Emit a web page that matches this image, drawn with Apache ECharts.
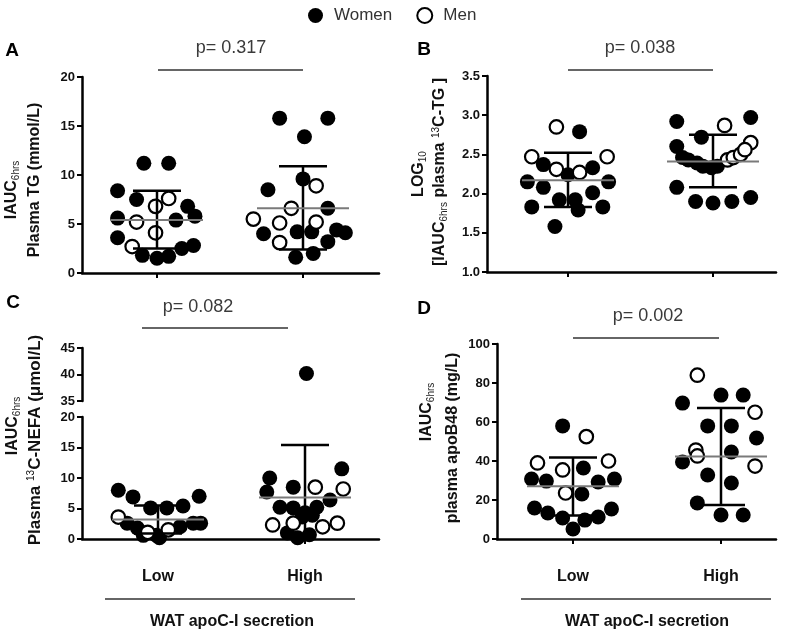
<!DOCTYPE html>
<html><head><meta charset="utf-8">
<script src="https://cdn.jsdelivr.net/npm/echarts@6/dist/echarts.min.js"></script>
<style>html,body{margin:0;padding:0;background:#fff}#c{width:797px;height:636px}</style>
</head><body><div id="c"></div>
<script>
// ---------------- DATA ----------------
const categories = ['Low', 'High'];
const groupNames = ['Women', 'Men'];
// each point: [horizontal jitter in category units, value]
const aWomenLow = [[-0.27,8.4],[-0.09,11.2],[0.08,11.2],[-0.14,7.5],[0.21,6.8],[-0.27,5.6],[0.13,5.4],[0.26,5.8],[-0.27,3.6],[-0.10,1.8],[0.0,1.5],[0.08,1.7],[0.17,2.5],[0.25,2.8]];
const aMenLow = [[0.08,7.6],[-0.01,6.8],[-0.14,5.2],[-0.01,4.1],[-0.17,2.7]];
const aWomenHigh = [[-0.16,15.8],[0.17,15.8],[0.01,13.9],[-0.24,8.5],[0.0,9.6],[0.17,6.6],[-0.27,4.0],[-0.04,4.2],[0.06,4.2],[0.23,4.4],[0.29,4.1],[0.17,3.2],[-0.05,1.6],[0.07,2.0]];
const aMenHigh = [[0.09,8.9],[-0.08,6.6],[-0.34,5.5],[-0.16,5.1],[0.09,5.2],[-0.16,3.1]];

const bWomenLow = [[0.08,2.79],[-0.17,2.37],[0.0,2.24],[0.17,2.33],[-0.28,2.15],[0.28,2.15],[-0.17,2.08],[0.17,2.01],[-0.06,1.92],[0.05,1.92],[-0.25,1.83],[0.24,1.83],[0.07,1.79],[-0.09,1.58]];
const bMenLow = [[-0.08,2.85],[-0.25,2.47],[0.27,2.47],[-0.08,2.31],[0.08,2.27]];
const bWomenHigh = [[-0.25,2.92],[0.26,2.97],[-0.08,2.72],[-0.25,2.60],[-0.21,2.46],[-0.17,2.43],[-0.11,2.39],[-0.07,2.35],[-0.01,2.33],[0.03,2.35],[-0.25,2.08],[-0.12,1.90],[0.0,1.88],[0.13,1.90],[0.26,1.95]];
const bMenHigh = [[0.08,2.87],[0.26,2.65],[0.10,2.43],[0.14,2.46],[0.19,2.50],[0.22,2.56]];

const cWomenLow = [[-0.27,8.0],[-0.17,6.9],[-0.05,5.1],[0.06,5.1],[0.17,5.4],[0.28,7.0],[-0.21,2.6],[-0.14,1.8],[-0.10,0.6],[-0.01,0.6],[0.01,0.2],[0.15,2.0],[0.24,2.6],[0.29,2.6]];
const cMenLow = [[-0.27,3.6],[-0.07,1.1],[0.07,1.5]];
const cWomenHigh = [[0.01,40.2],[-0.24,10.0],[-0.26,7.7],[-0.08,8.5],[0.25,11.5],[-0.17,5.2],[-0.08,5.1],[0.0,4.3],[0.08,5.2],[0.17,6.4],[-0.02,3.6],[0.05,3.9],[-0.12,1.0],[-0.05,0.2],[0.03,0.7]];
const cMenHigh = [[0.07,8.5],[0.26,8.2],[-0.22,2.3],[-0.08,2.6],[0.12,2.0],[0.22,2.6]];

const dWomenLow = [[-0.07,58],[0.07,36.4],[-0.28,30.8],[-0.18,29.7],[0.17,29.2],[0.28,30.8],[0.06,23.1],[-0.26,15.9],[-0.17,13.3],[-0.07,10.8],[0.08,9.7],[0.17,11.3],[0.26,15.4],[0.0,5.1]];
const dMenLow = [[0.09,52.5],[-0.24,39],[-0.07,35.4],[0.24,40],[-0.05,23.6]];
const dWomenHigh = [[-0.26,69.7],[0.0,73.8],[0.15,73.8],[-0.09,58],[0.07,58],[0.24,51.8],[-0.26,39.5],[0.07,44.6],[-0.09,32.8],[0.07,28.7],[-0.16,18.5],[0.0,12.3],[0.15,12.3]];
const dMenHigh = [[-0.16,84],[0.23,65],[-0.17,45.6],[-0.16,42.6],[0.23,37.4]];

// [mean, mean - SD, mean + SD] for Low, High
const aStats = [[5.4,2.5,8.4],[6.6,2.4,10.9]];
const bStats = [[2.17,1.83,2.52],[2.41,2.08,2.75]];
const cStats = [[3.2,0.9,5.5],[6.8,-1.6,15.4]];
const dStats = [[27,12,41.8],[42.3,17.4,67.2]];

const aYTicks = [0,5,10,15,20];
const bYTicks = [1.0,1.5,2.0,2.5,3.0,3.5];
const cYTicksLower = [0,5,10,15,20];
const cYTicksUpper = [35,40,45];
const dYTicks = [0,20,40,60,80,100];

const pValues = ['p= 0.317','p= 0.038','p= 0.082','p= 0.002'];
const panelLetters = ['A','B','C','D'];
const groupAxisTitle = 'WAT apoC-I secretion';

// ---------------- BUILD ----------------
const FF = 'Arial, "Liberation Sans", sans-serif';
const grids = [], xAxes = [], yAxes = [], series = [];

function addGrid(p, ticks, opts) {
  const gi = grids.length;
  grids.push({left: p.left, top: p.top, width: p.right - p.left, height: p.bottom - p.top});
  const unit = p.highPx - p.lowPx;
  xAxes.push({
    gridIndex: gi, type: 'value',
    min: 1 - (p.lowPx - p.left) / unit, max: 1 + (p.right - p.lowPx) / unit,
    axisLine: {show: opts.showX, onZero: false, lineStyle: {color: '#000', width: 2.5}},
    splitLine: {show: false},
    axisTick: {show: opts.showX, customValues: [1, 2], length: 5, lineStyle: {color: '#000', width: 2}},
    axisLabel: {show: !!opts.xLabels, customValues: [1, 2], margin: 30,
      formatter: v => categories[Math.round(v) - 1] || '',
      fontFamily: FF, fontSize: 16, fontWeight: 'bold', color: '#111'}
  });
  yAxes.push({
    gridIndex: gi, type: 'value',
    min: ticks[0], max: ticks[ticks.length - 1], interval: ticks[1] - ticks[0],
    axisLine: {show: true, onZero: false, lineStyle: {color: '#000', width: 2.5}},
    splitLine: {show: false},
    axisTick: {show: true, length: 5, lineStyle: {color: '#000', width: 2}},
    axisLabel: {margin: 7, fontFamily: FF, fontSize: 13, fontWeight: 'bold', color: '#111',
      formatter: v => opts.decimals ? Number(v).toFixed(opts.decimals) : String(v)}
  });
  return gi;
}

function toPoints(arr, g) { return arr.map(([dx, v]) => [g + 1 + dx, v]); }

function addScatter(gi, women, men) {
  series.push({type: 'scatter', name: groupNames[0], xAxisIndex: gi, yAxisIndex: gi, symbolSize: 15,
    itemStyle: {color: '#000', opacity: 1}, z: 2, data: women, silent: true});
  series.push({type: 'scatter', name: groupNames[1], xAxisIndex: gi, yAxisIndex: gi, symbolSize: 13.5,
    itemStyle: {color: '#fff', borderColor: '#000', borderWidth: 2.2, opacity: 1}, z: 3, data: men, silent: true});
}

function addErrorBars(gi, stats, yMin) {
  series.push({
    type: 'custom', xAxisIndex: gi, yAxisIndex: gi, z: 5, silent: true,
    data: stats.map((s, i) => [i + 1, s[0], s[1], s[2]]),
    renderItem: (params, api) => {
      const x = api.value(0), m = api.value(1), lo = api.value(2), hi = api.value(3);
      const clipped = lo <= yMin;
      const pm = api.coord([x, m]), pl = api.coord([x, clipped ? yMin : lo]), ph = api.coord([x, hi]);
      const kids = [
        {type: 'line', shape: {x1: pl[0], y1: pl[1], x2: ph[0], y2: ph[1]}, style: {stroke: '#000', lineWidth: 2.5}},
        {type: 'line', shape: {x1: ph[0] - 24, y1: ph[1], x2: ph[0] + 24, y2: ph[1]}, style: {stroke: '#000', lineWidth: 2.5}},
        {type: 'line', shape: {x1: pm[0] - 46, y1: pm[1], x2: pm[0] + 46, y2: pm[1]}, style: {stroke: '#7a7a7a', lineWidth: 2}}
      ];
      if (!clipped) kids.push({type: 'line', shape: {x1: pl[0] - 24, y1: pl[1], x2: pl[0] + 24, y2: pl[1]}, style: {stroke: '#000', lineWidth: 2.5}});
      return {type: 'group', children: kids};
    }
  });
}

function splitPanel(gi, women, men) {
  addScatter(gi,
    toPoints(women[0], 0).concat(toPoints(women[1], 1)),
    toPoints(men[0], 0).concat(toPoints(men[1], 1)));
}

// Panel A
const gA = addGrid({left: 82, top: 77, bottom: 273, right: 379, lowPx: 157, highPx: 303}, aYTicks, {showX: true});
splitPanel(gA, [aWomenLow, aWomenHigh], [aMenLow, aMenHigh]);
addErrorBars(gA, aStats, aYTicks[0]);
// Panel B
const gB = addGrid({left: 487, top: 76, bottom: 272, right: 776, lowPx: 568, highPx: 713}, bYTicks, {showX: true, decimals: 1});
splitPanel(gB, [bWomenLow, bWomenHigh], [bMenLow, bMenHigh]);
addErrorBars(gB, bStats, bYTicks[0]);
// Panel C (broken axis)
const cLowerMax = cYTicksLower[cYTicksLower.length - 1];
const gCl = addGrid({left: 82, top: 417, bottom: 539, right: 379, lowPx: 158, highPx: 305}, cYTicksLower, {showX: true, xLabels: true});
const gCu = addGrid({left: 82, top: 348, bottom: 401, right: 379, lowPx: 158, highPx: 305}, cYTicksUpper, {showX: false});
const cW = toPoints(cWomenLow, 0).concat(toPoints(cWomenHigh, 1));
const cM = toPoints(cMenLow, 0).concat(toPoints(cMenHigh, 1));
addScatter(gCl, cW.filter(p => p[1] <= cLowerMax), cM.filter(p => p[1] <= cLowerMax));
addScatter(gCu, cW.filter(p => p[1] > cLowerMax), cM.filter(p => p[1] > cLowerMax));
addErrorBars(gCl, cStats, cYTicksLower[0]);
// Panel D
const gD = addGrid({left: 497, top: 344, bottom: 539, right: 776, lowPx: 573, highPx: 721}, dYTicks, {showX: true, xLabels: true});
splitPanel(gD, [dWomenLow, dWomenHigh], [dMenLow, dMenHigh]);
addErrorBars(gD, dStats, dYTicks[0]);

// ---------------- ANNOTATIONS ----------------
const rich = {
  s: {fontSize: 10, lineHeight: 10, verticalAlign: 'bottom', fontFamily: FF, fill: '#222'},
  u: {fontSize: 10, lineHeight: 10, verticalAlign: 'top', fontFamily: FF, fill: '#111'}
};
function vText(text, x, y, size) {
  return {type: 'text', x: x, y: y, rotation: Math.PI / 2, silent: true,
    style: {text: text, rich: rich, fontFamily: FF, fontSize: size || 16, fontWeight: 'bold', fill: '#111',
      lineHeight: 18, align: 'center', verticalAlign: 'middle'}};
}
function hText(text, x, y, size, weight, color) {
  return {type: 'text', x: x, y: y, silent: true,
    style: {text: text, fontFamily: FF, fontSize: size, fontWeight: weight, fill: color, align: 'center', verticalAlign: 'middle'}};
}
function hLine(x1, x2, y, w, color) {
  return {type: 'line', silent: true, shape: {x1: x1, y1: y, x2: x2, y2: y}, style: {stroke: color, lineWidth: w}};
}
const graphic = [
  hText(panelLetters[0], 12, 51, 19, 'bold', '#000'),
  hText(panelLetters[1], 424, 50, 19, 'bold', '#000'),
  hText(panelLetters[2], 13, 303, 19, 'bold', '#000'),
  hText(panelLetters[3], 424, 309, 19, 'bold', '#000'),
  hText(pValues[0], 231, 48, 18, 'normal', '#3a3a3a'), hLine(158, 303, 70, 1.6, '#333'),
  hText(pValues[1], 640, 48, 18, 'normal', '#3a3a3a'), hLine(568, 713, 70, 1.6, '#333'),
  hText(pValues[2], 198, 307, 18, 'normal', '#3a3a3a'), hLine(142, 288, 328, 1.6, '#333'),
  hText(pValues[3], 648, 316, 18, 'normal', '#3a3a3a'), hLine(573, 719, 338, 1.6, '#333'),
  vText('IAUC{s|6hrs}', 12, 190),
  vText('Plasma TG (mmol/L)', 35, 180),
  vText('LOG{s|10}', 419, 174),
  vText('[IAUC{s|6hrs} plasma {u|13}C-TG ]', 440, 172),
  vText('IAUC{s|6hrs}', 13, 426),
  vText('Plasma {u|13}C-NEFA (μmol/L)', 35, 440, 17),
  vText('IAUC{s|6hrs}', 427, 412),
  vText('plasma apoB48 (mg/L)', 453, 438),
  hLine(105, 355, 599, 1.6, '#333'),
  hLine(521, 771, 599, 1.6, '#333'),
  hText(groupAxisTitle, 232, 622, 16, 'bold', '#111'),
  hText(groupAxisTitle, 647, 622, 16, 'bold', '#111')
];

const chart = echarts.init(document.getElementById('c'), null, {renderer: 'canvas'});
chart.setOption({
  animation: false,
  backgroundColor: '#fff',
  legend: {data: groupNames, left: 303, top: 2, itemWidth: 15, itemHeight: 15, itemGap: 24, icon: 'circle',
    selectedMode: false,
    textStyle: {fontFamily: FF, fontSize: 17, color: '#333', padding: [0, 0, 0, 6]}},
  grid: grids, xAxis: xAxes, yAxis: yAxes, series: series, graphic: graphic
});
</script></body></html>
